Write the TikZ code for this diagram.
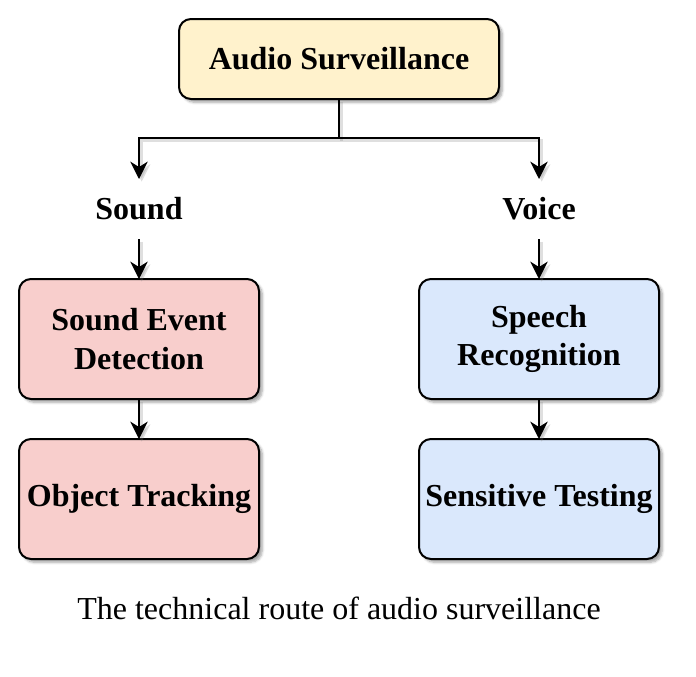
\documentclass[tikz,border=0pt]{standalone}
\usepackage{fontspec}
\setmainfont{Liberation Serif}
\usetikzlibrary{positioning,arrows.meta,shadows.blur}
\definecolor{audiofill}{HTML}{FFF2CC}
\definecolor{soundfill}{HTML}{F8CECC}
\definecolor{voicefill}{HTML}{DAE8FC}

\begin{document}
\begin{tikzpicture} [
					x=0.75pt, y=-0.75pt,
					every node/.style={font=\fontsize{24pt}{29pt}\selectfont},
					box/.style={draw,rounded corners=9pt,line width=1.5pt,align=center,outer sep=0,
						font=\fontsize{24pt}{29pt}\selectfont\bfseries,
						blur shadow={shadow xshift=2.5pt,shadow yshift=-2.5pt,shadow opacity=35,shadow blur steps=6}},
					topbox/.style={box,fill=audiofill,minimum width=240pt,minimum height=60pt},
					soundbox/.style={box,fill=soundfill,minimum width=180pt,minimum height=90pt},
					voicebox/.style={box,fill=voicefill,minimum width=180pt,minimum height=90pt},
					branch/.style={font=\fontsize{24pt}{29pt}\selectfont\bfseries,minimum height=45pt,inner sep=0,outer sep=0},
					wire/.style={line width=1.5pt,
						preaction={draw=gray,opacity=0.25,line width=2.5pt,transform canvas={shift={(2pt,-2pt)}}}},
					link/.style={wire,-{Stealth[length=13pt,width=13pt,inset=4pt]}},
					node distance=30pt,
				]
				\useasboundingbox (0,0) rectangle (696,676);
				
				\node[topbox] (audio) at (339,59) {Audio Surveillance};
				\coordinate (split) at (339,138);
				
				\node[branch] (sound) at (139,209) {Sound};
				\node[soundbox] (sed) [below=of sound] {Sound Event\\Detection};
				\node[soundbox] (track) [below=of sed] {Object Tracking};
				
				\node[branch] (voice) at (539,209) {Voice};
				\node[voicebox] (speech) [below=of voice] {Speech\\Recognition};
				\node[voicebox] (sensitive) [below=of speech] {Sensitive Testing};
				
				\node (caption) at (339,608) {The technical route of audio surveillance};
				
				\draw[wire] (audio.south) -- (split);
				\draw[link] (split) -| (sound);
				\draw[link] (split) -| (voice);
				\draw[link] (sound) -- (sed);
				\draw[link] (sed) -- (track);
				\draw[link] (voice) -- (speech);
				\draw[link] (speech) -- (sensitive);
				
			\end{tikzpicture}
\end{document}
